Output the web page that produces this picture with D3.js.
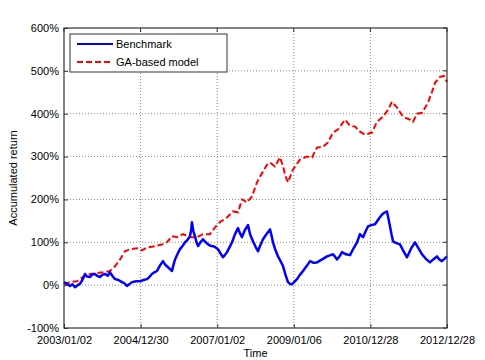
<!DOCTYPE html>
<html>
<head>
<meta charset="utf-8">
<script src="https://cdn.jsdelivr.net/npm/d3@7"></script>
<style>
  body { margin: 0; background: #fff; }
  svg { display: block; }
  text { font-family: "Liberation Sans", Arial, sans-serif; fill: #000; }
</style>
</head>
<body>
<svg id="chart" width="485" height="360"></svg>
<script>
// ---- data (trading-day index, accumulated return in %) ----
const xTickDays = [0, 500, 1000, 1500, 2000, 2500];
const xTickLabels = ["2003/01/02", "2004/12/30", "2007/01/02", "2009/01/06", "2010/12/28", "2012/12/28"];
const yTickValues = [-100, 0, 100, 200, 300, 400, 500, 600];

const benchDays = [0, 20, 39, 55, 72, 90, 104, 120, 137, 150, 170, 185, 202, 220, 235, 250, 268, 285, 300, 315, 333, 355, 379, 395, 411, 430, 444, 470, 496, 520, 542, 560, 574, 590, 607, 625, 646, 660, 672, 690, 705, 715, 725, 740, 757, 775, 790, 805, 822, 830, 835, 845, 855, 865, 875, 890, 907, 925, 940, 955, 973, 990, 1005, 1020, 1038, 1050, 1064, 1080, 1097, 1115, 1136, 1150, 1162, 1180, 1201, 1215, 1234, 1250, 1266, 1280, 1299, 1320, 1345, 1355, 1364, 1380, 1397, 1415, 1430, 1445, 1462, 1475, 1488, 1505, 1521, 1540, 1560, 1585, 1606, 1630, 1651, 1685, 1717, 1740, 1756, 1770, 1782, 1800, 1815, 1840, 1867, 1890, 1913, 1925, 1932, 1945, 1952, 1968, 1984, 2005, 2030, 2055, 2076, 2095, 2108, 2118, 2128, 2138, 2148, 2170, 2193, 2215, 2239, 2265, 2291, 2315, 2337, 2360, 2389, 2410, 2435, 2450, 2467, 2485, 2500];
const benchmark = [7, 3, -2, 2, -5, 0, 3, 12, 26, 20, 19, 25, 26, 21, 19, 24, 26, 22, 30, 22, 14, 12, 7, 4, -2, 3, 7, 9, 9, 12, 14, 20, 26, 30, 33, 45, 56, 48, 44, 38, 33, 48, 60, 72, 84, 92, 100, 105, 114, 128, 147, 125, 114, 100, 91, 100, 107, 100, 95, 92, 91, 88, 84, 75, 65, 70, 77, 88, 100, 118, 133, 120, 112, 128, 140, 118, 102, 90, 79, 92, 107, 118, 130, 115, 100, 82, 67, 55, 44, 25, 7, 3, 2, 8, 14, 24, 33, 45, 56, 52, 53, 60, 67, 70, 72, 66, 60, 68, 77, 72, 70, 86, 100, 112, 119, 114, 112, 125, 137, 140, 142, 155, 165, 170, 172, 155, 137, 118, 102, 98, 95, 80, 65, 85, 100, 85, 72, 62, 53, 60, 67, 60, 56, 62, 67];

const gaDays = [0, 39, 85, 124, 170, 215, 255, 300, 333, 366, 398, 431, 477, 509, 542, 594, 640, 672, 705, 738, 777, 822, 868, 907, 953, 986, 1018, 1064, 1103, 1136, 1162, 1195, 1227, 1260, 1279, 1299, 1325, 1345, 1377, 1410, 1430, 1445, 1462, 1495, 1540, 1586, 1619, 1651, 1690, 1723, 1756, 1788, 1834, 1867, 1900, 1932, 1965, 2010, 2043, 2082, 2115, 2141, 2174, 2213, 2259, 2278, 2304, 2337, 2376, 2402, 2422, 2454, 2480, 2500];
const gaModel = [2, 7, 9, 19, 26, 28, 30, 33, 44, 60, 79, 84, 86, 81, 88, 91, 95, 100, 114, 112, 119, 112, 112, 119, 119, 135, 147, 158, 172, 170, 200, 193, 207, 240, 253, 265, 281, 286, 277, 298, 277, 255, 240, 270, 293, 300, 298, 321, 323, 333, 356, 363, 386, 372, 370, 358, 351, 356, 381, 393, 409, 428, 414, 393, 386, 381, 400, 402, 426, 451, 472, 486, 488, 474];

const seriesNames = ["Benchmark", "GA-based model"];

// ---- layout ----
const svg = d3.select("#chart");
const margin = {left: 64, top: 28, right: 485 - 447, bottom: 360 - 328};
const W = 485 - margin.left - margin.right;
const H = 360 - margin.top - margin.bottom;
const g = svg.append("g").attr("transform", `translate(${margin.left},${margin.top})`);

const x = d3.scaleLinear().domain([0, 2500]).range([0, W]);
const y = d3.scaleLinear().domain([-100, 600]).range([H, 0]);

// grid
const gridColor = "#8a8a8a";
g.append("g").selectAll("line").data(xTickDays.slice(1, -1)).join("line")
  .attr("x1", d => x(d)).attr("x2", d => x(d)).attr("y1", 0).attr("y2", H)
  .attr("stroke", gridColor).attr("stroke-width", 1).attr("stroke-dasharray", "1,2");
g.append("g").selectAll("line").data(yTickValues.slice(1, -1)).join("line")
  .attr("x1", 0).attr("x2", W).attr("y1", d => y(d)).attr("y2", d => y(d))
  .attr("stroke", gridColor).attr("stroke-width", 1).attr("stroke-dasharray", "1,2");

// lines
const lineB = d3.line().x((d, i) => x(benchDays[i])).y(d => y(d));
const lineG = d3.line().x((d, i) => x(gaDays[i])).y(d => y(d));
g.append("path").datum(gaModel).attr("d", lineG)
  .attr("fill", "none").attr("stroke", "#ff0000").attr("stroke-width", 2)
  .attr("stroke-dasharray", "6,3");
g.append("path").datum(benchmark).attr("d", lineB)
  .attr("fill", "none").attr("stroke", "#0000ff").attr("stroke-width", 2.5)
  .attr("stroke-linejoin", "round");

// axes
const xAxis = d3.axisBottom(x).tickValues(xTickDays)
  .tickFormat((d, i) => xTickLabels[i]).tickSizeInner(-4).tickSizeOuter(0).tickPadding(8);
const yAxis = d3.axisLeft(y).tickValues(yTickValues)
  .tickFormat(d => d + "%").tickSizeInner(-4).tickSizeOuter(0).tickPadding(5);
const gx = g.append("g").attr("transform", `translate(0,${H})`).call(xAxis);
const gy = g.append("g").call(yAxis);
[gx, gy].forEach(a => {
  a.select(".domain").remove();
  a.selectAll(".tick line").attr("stroke", "#333");
  a.selectAll(".tick text").attr("font-size", 11).attr("fill", "#111")
    .style("font-family", "'Liberation Sans', Arial, sans-serif");
});
gy.selectAll(".tick text").attr("dy", "0.3em");
// top & right ticks
g.append("g").selectAll("line").data(xTickDays).join("line")
  .attr("x1", d => x(d)).attr("x2", d => x(d)).attr("y1", 0).attr("y2", 4).attr("stroke", "#333");
g.append("g").selectAll("line").data(yTickValues).join("line")
  .attr("x1", W).attr("x2", W - 4).attr("y1", d => y(d)).attr("y2", d => y(d)).attr("stroke", "#333");

// box
g.append("rect").attr("x", 0).attr("y", 0).attr("width", W).attr("height", H)
  .attr("fill", "none").attr("stroke", "#333").attr("stroke-width", 1.2);

// axis titles
svg.append("text").attr("x", margin.left + W / 2).attr("y", 357)
  .attr("text-anchor", "middle").attr("font-size", 11).text("Time");
svg.append("text").attr("transform", `translate(17,${margin.top + H / 2}) rotate(-90)`)
  .attr("text-anchor", "middle").attr("font-size", 11).text("Accumulated return");

// legend
const lg = svg.append("g").attr("transform", "translate(70,34)");
lg.append("rect").attr("width", 157).attr("height", 38)
  .attr("fill", "#fff").attr("stroke", "#333").attr("stroke-width", 1);
const legendItems = [
  {name: seriesNames[0], color: "#0000ff", dash: null},
  {name: seriesNames[1], color: "#ff0000", dash: "6,3"}
];
legendItems.forEach((it, i) => {
  const yy = 10 + i * 18;
  lg.append("line").attr("x1", 7).attr("x2", 43).attr("y1", yy).attr("y2", yy)
    .attr("stroke", it.color).attr("stroke-width", 2)
    .attr("stroke-dasharray", it.dash);
  lg.append("text").attr("x", 46).attr("y", yy + 4).attr("font-size", 11).text(it.name);
});
</script>
</body>
</html>
